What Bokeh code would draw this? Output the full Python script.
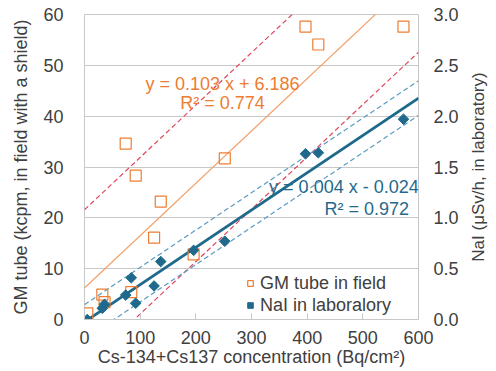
import math
from bokeh.plotting import figure
from bokeh.layouts import row
from bokeh.models import (Range1d, LinearAxis, FixedTicker, NumeralTickFormatter,
                          Label, Legend, LegendItem, Title)
from bokeh.embed import file_html
from bokeh.resources import INLINE

# ---- data ----
conc = [5, 32, 36, 74, 84, 92, 125, 137, 196, 252, 397, 420, 573]
gm_field = [1.2, 4.9, 3.4, 34.6, 5.4, 28.3, 16.1, 23.2, 12.8, 31.7, 57.6, 54.1, 57.6]
nai_lab = [0.0, 0.11, 0.15, 0.24, 0.41, 0.16, 0.33, 0.57, 0.68, 0.77, 1.63, 1.64, 1.97]

gm_fit = (0.103, 6.186)        # slope, intercept
gm_band = 15.4                 # +/- offset of dashed lines
nai_fit = (0.00367, -0.024)
nai_band = 0.17
fit_x = [0, 600]

gm_eq = ["y = 0.103 x + 6.186", "R² = 0.774"]
nai_eq = ["y = 0.004 x - 0.024", "R² = 0.972"]

x_ticks = [0, 100, 200, 300, 400, 500, 600]
y_ticks = [0, 10, 20, 30, 40, 50, 60]
y2_ticks = [0.0, 0.5, 1.0, 1.5, 2.0, 2.5, 3.0]

FONT = "Liberation Sans"
FS = "18px"
TXT = "#404040"
ORANGE = "#ED7D31"
ORANGE_LINE = "#F2A06A"
RED = "#E2455C"
BLUE = "#1F6A8C"
BLUE_DASH = "#5A9AC2"
GRID = "#C8C8C8"

H = 371
p = figure(width=462, height=H, output_backend="svg", toolbar_location=None,
           x_range=Range1d(0, 600), y_range=Range1d(0, 60),
           min_border_left=84, min_border_right=44, min_border_top=14, min_border_bottom=52)
p.extra_y_ranges = {"nai": Range1d(0, 3)}
p.background_fill_color = "white"
p.border_fill_color = "white"
p.outline_line_color = GRID
p.outline_line_width = 1

p.xgrid.grid_line_color = None
p.ygrid.grid_line_color = GRID
p.ygrid.ticker = FixedTicker(ticks=y_ticks)

# axes
xa = p.xaxis[0]
xa.ticker = FixedTicker(ticks=x_ticks)
xa.axis_label = "Cs-134+Cs137 concentration (Bq/cm²)"
xa.major_tick_in = 6
xa.major_tick_out = 0
xa.minor_tick_line_color = None
xa.axis_line_color = GRID
xa.major_tick_line_color = GRID
xa.major_label_standoff = 11
xa.axis_label_standoff = 0

ya = p.yaxis[0]
ya.ticker = FixedTicker(ticks=y_ticks)
ya.axis_label = "GM tube (kcpm, in field with a shield)"
ya.major_tick_line_color = None
ya.minor_tick_line_color = None
ya.axis_line_color = None
ya.major_tick_in = 0
ya.major_tick_out = 0
ya.major_label_standoff = 21
ya.axis_label_standoff = 9

ra = LinearAxis(y_range_name="nai", ticker=FixedTicker(ticks=y2_ticks),
                formatter=NumeralTickFormatter(format="0.0"))
ra.major_tick_line_color = None
ra.minor_tick_line_color = None
ra.axis_line_color = None
ra.major_tick_in = 0
ra.major_tick_out = 0
ra.major_label_standoff = 15
p.add_layout(ra, "right")

for ax in (xa, ya, ra):
    ax.major_label_text_font = FONT
    ax.major_label_text_font_size = FS
    ax.major_label_text_color = TXT
    ax.axis_label_text_font = FONT
    ax.axis_label_text_font_size = FS
    ax.axis_label_text_font_style = "normal"
    ax.axis_label_text_color = TXT

# fit lines
def line_y(fit, off=0.0):
    return [fit[0] * x + fit[1] + off for x in fit_x]

p.line(fit_x, line_y(gm_fit, gm_band), line_color=RED, line_width=1.2, line_dash="5 3")
p.line(fit_x, line_y(gm_fit, -gm_band), line_color=RED, line_width=1.2, line_dash="5 3")
p.line(fit_x, line_y(gm_fit), line_color=ORANGE_LINE, line_width=1.2)
p.line(fit_x, line_y(nai_fit, nai_band), line_color=BLUE_DASH, line_width=1.2,
       line_dash="5 3", y_range_name="nai")
p.line(fit_x, line_y(nai_fit, -nai_band), line_color=BLUE_DASH, line_width=1.2,
       line_dash="5 3", y_range_name="nai")
p.line(fit_x, line_y(nai_fit), line_color=BLUE, line_width=2.8, y_range_name="nai")

# markers
r_gm = p.scatter(conc, gm_field, marker="square", size=11, fill_color=None,
                 line_color=ORANGE, line_width=1.2)
r_nai = p.scatter(conc, nai_lab, marker="square", angle=math.pi / 4, size=7.5,
                  fill_color=BLUE, line_color=BLUE, y_range_name="nai")

# equation labels
for t, xx, yy in zip(gm_eq, [248, 248], [46.3, 42.6]):
    p.add_layout(Label(x=xx, y=yy, text=t, text_align="center", text_baseline="middle",
                       text_font=FONT, text_font_size=FS, text_color=ORANGE))
for t, xx, yy in zip(nai_eq, [466, 507], [1.30, 1.09]):
    p.add_layout(Label(x=xx, y=yy, text=t, text_align="center", text_baseline="middle",
                       y_range_name="nai",
                       text_font=FONT, text_font_size=FS, text_color=BLUE))

# legend
leg = Legend(items=[LegendItem(label="GM tube in field", renderers=[r_gm]),
                    LegendItem(label="NaI in laboralory", renderers=[r_nai])],
             location=(159, 3), orientation="vertical")
leg.background_fill_alpha = 0
leg.border_line_color = None
leg.padding = 0
leg.margin = 0
leg.spacing = 0
leg.glyph_width = 14
leg.glyph_height = 22
leg.label_height = 22
leg.label_standoff = 3
leg.label_text_font = FONT
leg.label_text_font_size = FS
leg.label_text_color = TXT
p.add_layout(leg, "center")

# narrow companion figure carrying the right-hand axis title (reads bottom-to-top)
p2 = figure(width=34, height=H, output_backend="svg", toolbar_location=None,
            x_range=Range1d(0, 1), y_range=Range1d(0, 3),
            x_axis_location=None, y_axis_location=None,
            min_border_left=25, min_border_right=0, min_border_top=14, min_border_bottom=52)
p2.grid.visible = False
p2.outline_line_color = None
p2.border_fill_color = "white"
p2.background_fill_color = "white"
p2.add_layout(Title(text="NaI (μSv/h, in laboratory)", align="center", offset=24,
                    standoff=0, text_font=FONT, text_font_size="17px",
                    text_font_style="normal", text_color=TXT), "left")

layout = row(p, p2, spacing=0)
open("out.html", "w").write(file_html(layout, INLINE))
